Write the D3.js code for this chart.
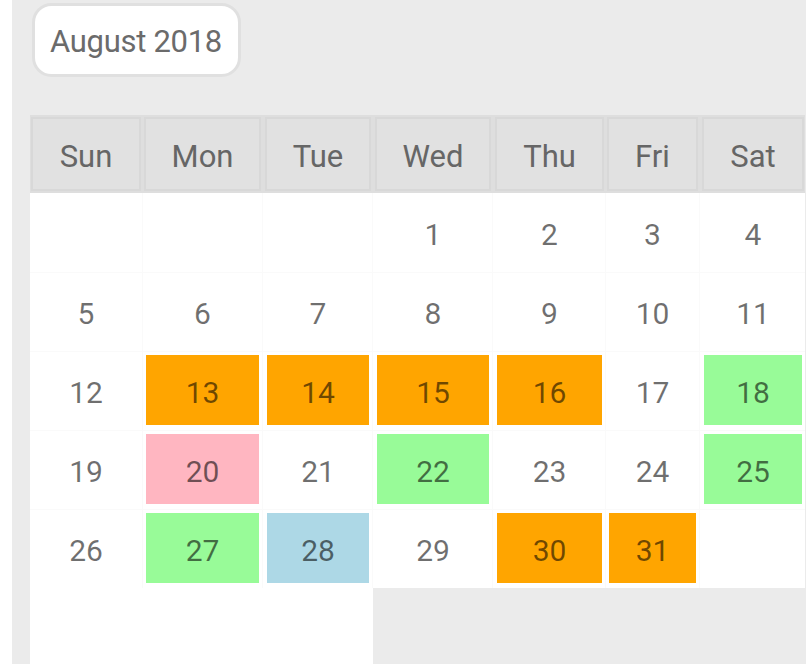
<!DOCTYPE html>
<html>
<head>
<meta charset="utf-8">
<script src="https://cdn.jsdelivr.net/npm/d3@7"></script>
<style>
  html, body { margin: 0; padding: 0; background: #ffffff; }
  svg { display: block; }
</style>
</head>
<body>
<svg id="chart" width="810" height="664"></svg>
<script>
// ---- data ----
const monthTitle = "August 2018";
const weekdays = ["Sun", "Mon", "Tue", "Wed", "Thu", "Fri", "Sat"];
const calYear = 2018;
const calMonth = 7; // August (0-based)
const dayNumbers = [1,2,3,4,5,6,7,8,9,10,11,12,13,14,15,16,17,18,19,20,21,22,23,24,25,26,27,28,29,30,31];
const markedDays = [13, 14, 15, 16, 18, 20, 22, 25, 27, 28, 30, 31];
const markedStatus = ["orange","orange","orange","orange","green","pink","green","green","green","blue","orange","orange"];
const statusNames = ["orange", "green", "pink", "blue"];
const statusColors = ["#FFA500", "#98FB98", "#FFB6C1", "#ADD8E6"];

// ---- layout ----
const W = 810, H = 664;
const colEdges = [[31,141],[144,261],[265,371],[375,491],[495,604],[607,698],[702,804]];
const bodyTop = 193, rowH = 79;

const svg = d3.select("#chart");
const font = "Roboto, 'Noto Sans', sans-serif";

// page background
svg.append("rect").attr("x", 0).attr("y", 0).attr("width", W).attr("height", H).attr("fill", "#ffffff");
svg.append("rect").attr("x", 12).attr("y", 0).attr("width", 794).attr("height", H).attr("fill", "#ebebeb");

// title pill
svg.append("rect").attr("x", 33.5).attr("y", 4.5).attr("width", 206).attr("height", 71)
  .attr("rx", 18).attr("fill", "#ffffff").attr("stroke", "#e0e0e0").attr("stroke-width", 3);
svg.append("text").attr("x", 136).attr("y", 52).attr("text-anchor", "middle")
  .attr("font-family", font).attr("font-size", 31).attr("letter-spacing", -0.3)
  .attr("fill", "#6b6b6b").text(monthTitle);

// scales
const xLeft = d3.scaleOrdinal(weekdays, colEdges.map(e => e[0]));
const xRight = d3.scaleOrdinal(weekdays, colEdges.map(e => e[1]));
const xMid = d => (xLeft(d) + xRight(d)) / 2;

const firstDow = new Date(calYear, calMonth, 1).getDay();
const cells = dayNumbers.map(d => {
  const idx = firstDow + d - 1;
  return { day: d, dow: weekdays[idx % 7], week: Math.floor(idx / 7) };
});
const nWeeks = d3.max(cells, c => c.week) + 1;
const y = d3.scaleBand().domain(d3.range(nWeeks)).range([bodyTop, bodyTop + rowH * nWeeks]).padding(0);
const color = d3.scaleOrdinal(statusNames, statusColors);
const statusOf = new Map(markedDays.map((d, i) => [d, markedStatus[i]]));

// header
svg.append("rect").attr("x", 30).attr("y", 115).attr("width", 775).attr("height", 78).attr("fill", "#dedede");
const hdr = svg.append("g");
hdr.selectAll("rect").data(weekdays).join("rect")
  .attr("x", d => xLeft(d) + 1).attr("y", 118)
  .attr("width", d => xRight(d) - xLeft(d) - 2).attr("height", 72)
  .attr("fill", "#e1e1e1").attr("stroke", "#d8d8d8").attr("stroke-width", 2);
hdr.selectAll("text").data(weekdays).join("text")
  .attr("x", d => xMid(d)).attr("y", 156).attr("dy", "0.35em")
  .attr("text-anchor", "middle").attr("font-family", font).attr("font-size", 31)
  .attr("fill", "#666666").text(d => d);

// body
svg.append("rect").attr("x", 30).attr("y", bodyTop).attr("width", 775).attr("height", rowH * nWeeks).attr("fill", "#ffffff");
svg.append("rect").attr("x", 30).attr("y", bodyTop + rowH * nWeeks).attr("width", 343).attr("height", H - bodyTop - rowH * nWeeks).attr("fill", "#ffffff");

// faint grid lines
const grid = svg.append("g").attr("stroke", "#fafafa").attr("stroke-width", 1);
grid.selectAll("line.v").data(weekdays.slice(0, 6)).join("line").attr("class", "v")
  .attr("x1", d => xRight(d) + 1.5).attr("x2", d => xRight(d) + 1.5)
  .attr("y1", bodyTop).attr("y2", bodyTop + rowH * nWeeks);
grid.selectAll("line.h").data(d3.range(1, nWeeks)).join("line").attr("class", "h")
  .attr("x1", 30).attr("x2", 805)
  .attr("y1", d => y(d) + 0.5).attr("y2", d => y(d) + 0.5);

const dayG = svg.append("g").selectAll("g").data(cells).join("g");
dayG.filter(c => statusOf.has(c.day)).append("rect")
  .attr("x", c => xLeft(c.dow) + 2).attr("y", c => y(c.week) + 4)
  .attr("width", c => xRight(c.dow) - xLeft(c.dow) - 4).attr("height", 70)
  .attr("fill", c => color(statusOf.get(c.day)));
dayG.append("text")
  .attr("x", c => xMid(c.dow)).attr("y", c => y(c.week) + 41).attr("dy", "0.35em")
  .attr("text-anchor", "middle").attr("font-family", font).attr("font-size", 30)
  .attr("fill", "#000000").attr("fill-opacity", 0.56).text(c => c.day);
</script>
</body>
</html>
